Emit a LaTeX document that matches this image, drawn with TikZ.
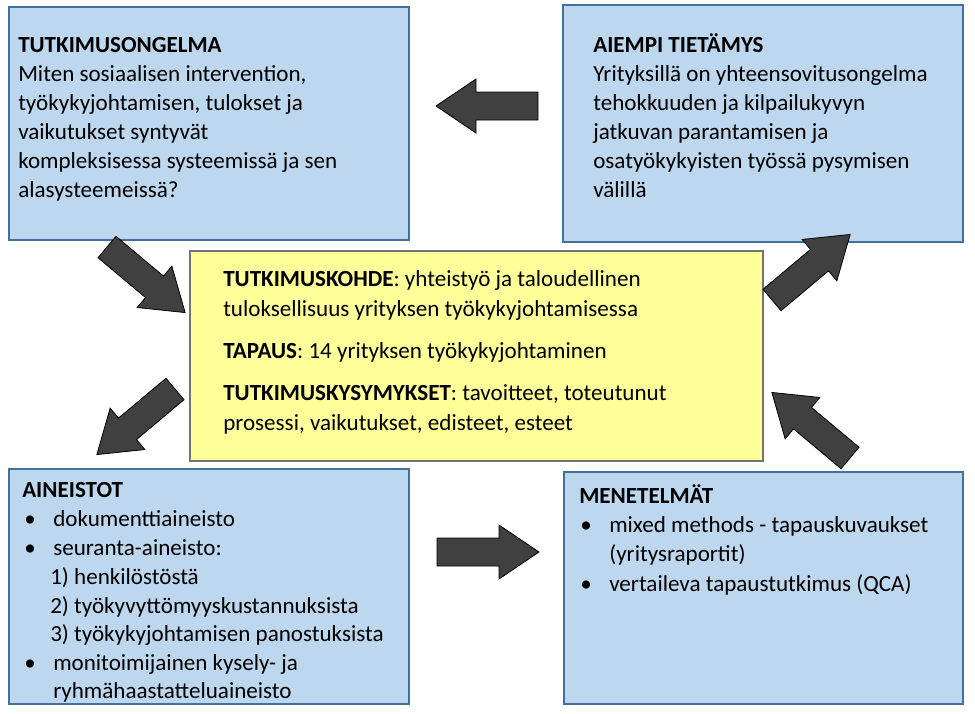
\documentclass[tikz,border=0pt]{standalone}
\usepackage{fontspec}
\setmainfont{Carlito}
\begin{document}
\begin{tikzpicture}[x=0.75pt,y=-0.75pt,
  bluebox/.style={draw=blue!30!black!60!cyan!40!black, line width=0.8pt, fill={rgb,255:red,189;green,215;blue,238}},
  ybox/.style={draw=black!55, line width=0.8pt, fill={rgb,255:red,255;green,255;blue,153}},
  txt/.style={anchor=base west, inner sep=0pt, font=\fontsize{17.3}{20}\selectfont},
  barrowshape/.style={fill=black!75, draw=black, line width=0.6pt}]
\useasboundingbox (0,0) rectangle (975,714);
\definecolor{bb}{RGB}{65,113,156}
\draw[bluebox,draw=bb] (9,7) rectangle (409,240);
\draw[bluebox,draw=bb] (563,5) rectangle (963,242);
\draw[ybox] (190,251) rectangle (763,461);
\draw[bluebox,draw=bb] (9,469) rectangle (409,704);
\draw[bluebox,draw=bb] (564,472) rectangle (963,704);
% block arrows: tail at origin, pointing +x
\newcommand\barrow[3]{\begin{scope}[shift={(#1,#2)},rotate=#3]
 \draw[barrowshape] (0,-14) -- (62,-14) -- (62,-27) -- (102,0) -- (62,27) -- (62,14) -- (0,14) -- cycle;
\end{scope}}
\barrow{538}{106}{180}
\barrow{437}{552}{0}
\barrow{107}{247}{-40}
\barrow{175}{389}{-140}
\barrow{772}{300}{40}
\barrow{850}{458}{140}
% TL
\node[txt] (a1) at (18,52) {\textbf{TUTKIMUSONGELMA}};
\node[txt] (a2) at (18,81) {Miten sosiaalisen intervention,};
\node[txt] (a3) at (18,110) {työkykyjohtamisen, tulokset ja};
\node[txt] (a4) at (18,139) {vaikutukset syntyvät};
\node[txt] (a5) at (18,168) {kompleksisessa systeemissä ja sen};
\node[txt] (a6) at (18,197) {alasysteemeissä?};
% TR
\node[txt] (b1) at (593,52) {\textbf{AIEMPI TIETÄMYS}};
\node[txt] (b2) at (593,81) {Yrityksillä on yhteensovitusongelma};
\node[txt] (b3) at (593,110) {tehokkuuden ja kilpailukyvyn};
\node[txt] (b4) at (593,139) {jatkuvan parantamisen ja};
\node[txt] (b5) at (593,168) {osatyökykyisten työssä pysymisen};
\node[txt] (b6) at (593,197) {välillä};
% center
\node[txt] (c1) at (223,286) {\textbf{TUTKIMUSKOHDE}: yhteistyö ja taloudellinen};
\node[txt] (c2) at (223,316) {tuloksellisuus yrityksen työkykyjohtamisessa};
\node[txt] (c3) at (223,358) {\textbf{TAPAUS}: 14 yrityksen työkykyjohtaminen};
\node[txt] (c4) at (223,400) {\textbf{TUTKIMUSKYSYMYKSET}: tavoitteet, toteutunut};
\node[txt] (c5) at (223,430) {prosessi, vaikutukset, edisteet, esteet};
% BL
\node[txt] (d1) at (22,497) {\textbf{AINEISTOT}};
\node[txt] (d2b) at (24,526) {•};
\node[txt] (d2) at (53,526) {dokumenttiaineisto};
\node[txt] (d3b) at (24,555) {•};
\node[txt] (d3) at (53,555) {seuranta-aineisto:};
\node[txt] (d4) at (50,584) {1) henkilöstöstä};
\node[txt] (d5) at (50,613) {2) työkyvyttömyyskustannuksista};
\node[txt] (d6) at (50,641) {3) työkykyjohtamisen panostuksista};
\node[txt] (d7b) at (24,670) {•};
\node[txt] (d7) at (53,670) {monitoimijainen kysely- ja};
\node[txt] (d8) at (53,698) {ryhmähaastatteluaineisto};
% BR
\node[txt] (e1) at (579,503) {\textbf{MENETELMÄT}};
\node[txt] (e2b) at (580,532) {•};
\node[txt] (e2) at (609,532) {mixed methods - tapauskuvaukset};
\node[txt] (e3) at (609,561) {(yritysraportit)};
\node[txt] (e4b) at (580,591) {•};
\node[txt] (e4) at (609,591) {vertaileva tapaustutkimus (QCA)};
\end{tikzpicture}
\end{document}
